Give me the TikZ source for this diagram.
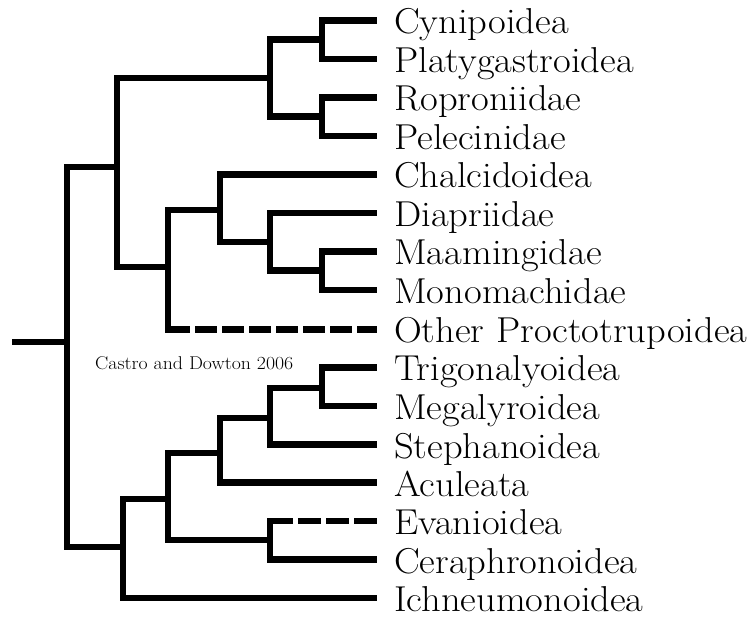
\documentclass[tikz,border=0pt]{standalone}
\usepackage{tikz}
\begin{document}
\begin{tikzpicture}[x=1pt,y=-1pt,
  branch/.style={line width=6.5pt,line join=miter,line cap=butt},
  dashbranch/.style={branch,dash pattern=on 21.5pt off 5.5pt},
  taxon/.style={anchor=base west,inner sep=0pt,xscale=1.07,font=\fontsize{36}{42}\selectfont},
  note/.style={anchor=base west,inner sep=0pt,xscale=1.07,font=\fontsize{18.5}{22}\selectfont}]
\useasboundingbox (0,0) rectangle (752,617);
% leaf tips
\coordinate (t0) at (377,20.5);
\coordinate (t1) at (377,59);
\coordinate (t2) at (377,97.5);
\coordinate (t3) at (377,136);
\coordinate (t4) at (377,174.5);
\coordinate (t5) at (377,213);
\coordinate (t6) at (377,251.5);
\coordinate (t7) at (377,290);
\coordinate (t8) at (377,329.5);
\coordinate (t9) at (377,367.5);
\coordinate (t10) at (377,406);
\coordinate (t11) at (377,444.5);
\coordinate (t12) at (377,482.5);
\coordinate (t13) at (377,521);
\coordinate (t14) at (377,559.5);
\coordinate (t15) at (377,598);
% labels
\node[taxon] (l0) at (394,34) {Cynipoidea};
\node[taxon] (l1) at (394,72.5) {Platygastroidea};
\node[taxon] (l2) at (394,111) {Roproniidae};
\node[taxon] (l3) at (394,149.5) {Pelecinidae};
\node[taxon] (l4) at (394,188) {Chalcidoidea};
\node[taxon] (l5) at (394,226.5) {Diapriidae};
\node[taxon] (l6) at (394,265) {Maamingidae};
\node[taxon] (l7) at (394,303.5) {Monomachidae};
\node[taxon] (l8) at (394,343) {Other Proctotrupoidea};
\node[taxon] (l9) at (394,381) {Trigonalyoidea};
\node[taxon] (l10) at (394,419.5) {Megalyroidea};
\node[taxon] (l11) at (394,458) {Stephanoidea};
\node[taxon] (l12) at (394,496) {Aculeata};
\node[taxon] (l13) at (394,534.5) {Evanioidea};
\node[taxon] (l14) at (394,573) {Ceraphronoidea};
\node[taxon] (l15) at (394,611) {Ichneumonoidea};
\node[note] (cite) at (95,370) {Castro and Dowton 2006};
% internal nodes
\coordinate (stub) at (12,342);
\coordinate (R) at (67,342);
\coordinate (H) at (117,167);
\coordinate (C) at (270,78.25);
\coordinate (A) at (322,39.75);
\coordinate (B) at (322,116.75);
\coordinate (G) at (168,267);
\coordinate (F) at (220,210);
\coordinate (E) at (270,242);
\coordinate (D) at (322,270.75);
\coordinate (N) at (123,547);
\coordinate (M) at (168,499);
\coordinate (K) at (220,453);
\coordinate (J) at (270,418);
\coordinate (I) at (322,388);
\coordinate (L) at (270,540);
% branches
\draw[branch] (stub) -- (R);
\draw[branch] (R) |- (H);
\draw[branch] (R) |- (N);
\draw[branch] (H) |- (C);
\draw[branch] (H) |- (G);
\draw[branch] (C) |- (A);
\draw[branch] (C) |- (B);
\draw[branch] (A) |- (t0);
\draw[branch] (A) |- (t1);
\draw[branch] (B) |- (t2);
\draw[branch] (B) |- (t3);
\draw[branch] (G) |- (F);
\draw[branch,line cap=rect] (G) -- (G |- t8);
\draw[dashbranch] (G |- t8) -- (t8);
\draw[branch] (F) |- (t4);
\draw[branch] (F) |- (E);
\draw[branch] (E) |- (t5);
\draw[branch] (E) |- (D);
\draw[branch] (D) |- (t6);
\draw[branch] (D) |- (t7);
\draw[branch] (N) |- (M);
\draw[branch] (N) |- (t15);
\draw[branch] (M) |- (K);
\draw[branch] (M) |- (L);
\draw[branch] (K) |- (J);
\draw[branch] (K) |- (t12);
\draw[branch] (J) |- (I);
\draw[branch] (J) |- (t11);
\draw[branch] (I) |- (t9);
\draw[branch] (I) |- (t10);
\draw[branch,line cap=rect] (L) -- (L |- t13);
\draw[branch,dash pattern=on 22.6pt off 5.5pt] (L |- t13) -- (t13);
\draw[branch] (L) |- (t14);
\end{tikzpicture}
\end{document}
